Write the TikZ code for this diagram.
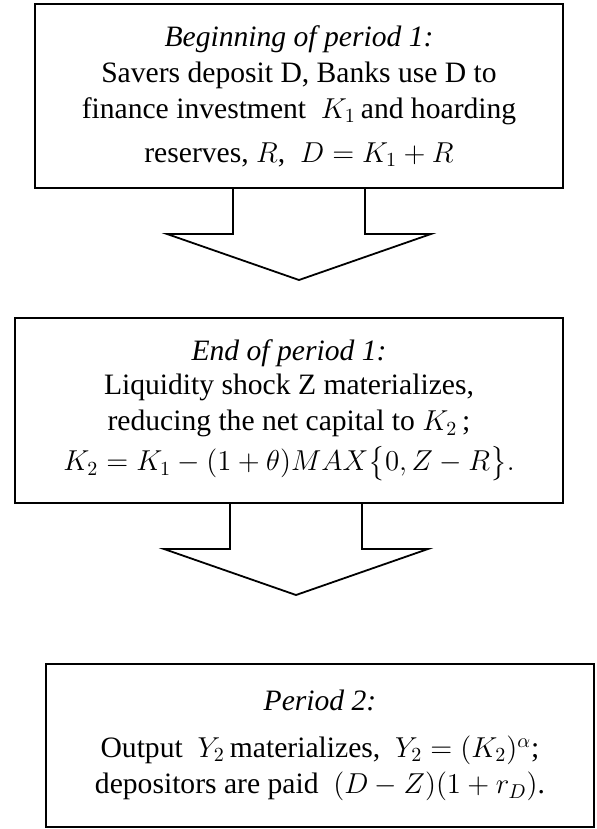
\documentclass[tikz,border=0pt]{standalone}
\usepackage{amsmath}
\usepackage{fontspec}
\setmainfont{Liberation Serif}
\usepackage{tikz}
\usetikzlibrary{positioning}

\tikzset{
    blockarrow/.pic={
        \draw[line width=0.9pt, line join=miter] (-66,0) -- (-66,46) -- (-132,46) -- (0,92) -- (132,46) -- (66,46) -- (66,0);
    }
}

\begin{document}
\begin{tikzpicture}[x=0.5pt, y=-0.5pt, node distance=65pt,
    period/.style={draw, line width=0.9pt, rectangle, align=center, inner sep=0pt, outer sep=0pt, font=\fontsize{14.8}{18}\selectfont}]
    \useasboundingbox (0,0) rectangle (596,829);

    \node [period, minimum width=264pt, minimum height=92pt] (begin1) at (299,96) {\textit{Beginning of period 1:}\\ Savers deposit D, Banks use D to\\ finance investment \ $K_1$\,and hoarding\\[4pt] reserves, $R$, \ $D=K_1+R$};
    \node [period, minimum width=274pt, minimum height=92.5pt, below=of begin1, xshift=-5pt] (end1) {\textit{End of period 1:}\\[-1pt] Liquidity shock Z materializes,\\ reducing the net capital to $K_2$\,;\\[2pt] $K_2=K_1-(1+\theta)MAX\big\{0,Z-R\big\}.$};
    \node [period, minimum width=274pt, minimum height=81.5pt, below=80.5pt of end1, xshift=15.5pt] (period2) {\textit{Period 2:}\\[5.5pt] Output \ $Y_2$\,materializes, \ $Y_2=(K_2)^{\alpha}$;\\ depositors are paid \ $(D-Z)(1+r_D)$.};

    \pic at (begin1.south) {blockarrow};
    \pic at ([xshift=3.5pt]end1.south) {blockarrow};
\end{tikzpicture}
\end{document}
